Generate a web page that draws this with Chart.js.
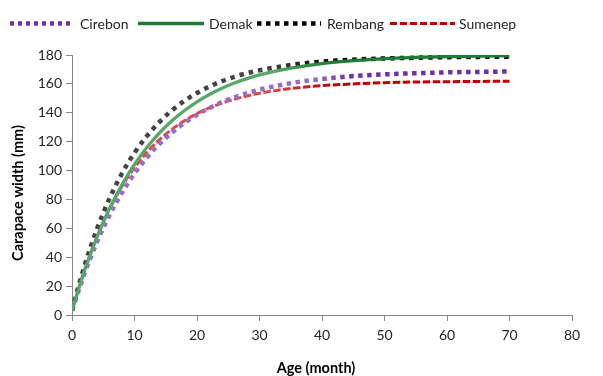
<!DOCTYPE html>
<html>
<head>
<meta charset="utf-8">
<script src="https://cdn.jsdelivr.net/npm/chart.js@4.4.1/dist/chart.umd.min.js"></script>
<style>
html,body{margin:0;padding:0;background:#fff;}
#wrap{width:603px;height:376px;}
</style>
</head>
<body>
<div id="wrap"><canvas id="c" width="603" height="376"></canvas></div>
<script>
// Age (month)
const ages    = [0,1,2,3,4,5,6,7,8,9,10,12,14,16,18,20,22,24,26,28,30,35,40,45,50,55,60,65,70];
// Carapace width (mm)
const cirebon = [3,16.1,28.6,40.0,50.5,60.2,69.1,77.2,84.7,91.5,97.9,109.0,118.4,126.3,133.0,138.6,143.3,147.4,150.7,153.6,156.0,160.5,163.4,165.4,166.6,167.4,168.0,168.3,168.6];
const demak   = [3,17.2,30.4,42.6,53.8,64.1,73.5,82.2,90.2,97.5,104.2,116.1,126.1,134.5,141.6,147.6,152.7,157.0,160.6,163.6,166.2,170.9,174.1,176.1,177.5,178.3,178.9,179.3,179.5];
const rembang = [3,19.3,34.1,47.4,59.6,70.6,80.7,89.8,98.0,105.5,112.3,124.0,133.7,141.7,148.3,153.7,158.2,161.9,164.9,167.4,169.4,173.1,175.4,176.8,177.6,178.1,178.5,178.7,178.8];
const sumenep = [3,17.6,31.1,43.2,54.3,64.3,73.4,81.6,89.1,95.9,102.0,112.7,121.4,128.6,134.5,139.4,143.4,146.7,149.4,151.6,153.5,156.8,158.8,160.0,160.8,161.3,161.5,161.7,161.8];
const seriesNames = ["Cirebon","Demak","Rembang","Sumenep"];
const xTitle = "Age (month)";
const yTitle = "Carapace width (mm)";

const pts = arr => ages.map((a,i)=>({x:a,y:arr[i]}));

function grad(light, dark, s1, s2){
  return function(ctx){
    const ch = ctx.chart, a = ch.chartArea;
    if(!a) return dark;
    const g = ch.ctx.createLinearGradient(a.left,0,a.right,0);
    g.addColorStop(0, light);
    g.addColorStop(s1, light);
    g.addColorStop(s2, dark);
    g.addColorStop(1, dark);
    return g;
  };
}

const styles = [
  {dark:'#7030a0', light:'#9b6cc6', w:4.5, dash:[4.5,4.5], s1:0.48, s2:0.56, order:2},
  {dark:'#1e7b34', light:'#55a868', w:3.3, dash:[], s1:0.40, s2:0.52, order:0},
  {dark:'#000000', light:'#444444', w:4.5, dash:[4.5,5], s1:0.40, s2:0.52, order:1},
  {dark:'#c00000', light:'#e04848', w:3, dash:[7.5,2.5], s1:0.40, s2:0.52, order:3}
];
const dataArrays = [cirebon, demak, rembang, sumenep];

const datasets = seriesNames.map((n,i)=>({
  label:n,
  data:pts(dataArrays[i]),
  borderColor:grad(styles[i].light, styles[i].dark, styles[i].s1, styles[i].s2),
  borderWidth:styles[i].w,
  borderDash:styles[i].dash,
  borderCapStyle:'butt',
  pointRadius:0,
  fill:false,
  cubicInterpolationMode:'monotone',
  order:styles[i].order
}));

const legendPlugin = {
  id:'customLegend',
  afterDraw(chart){
    const ctx = chart.ctx;
    const items = [
      {x1:10, x2:72, tx:80},
      {x1:138, x2:204, tx:209},
      {x1:257, x2:321, tx:327},
      {x1:390, x2:455, tx:459}
    ];
    const y = 23.5;
    ctx.save();
    items.forEach((it,i)=>{
      const s = styles[i];
      ctx.beginPath();
      ctx.strokeStyle = s.dark;
      ctx.lineWidth = s.w;
      ctx.lineCap = 'butt';
      ctx.setLineDash(i===0?[4,4]:(i===2?[4.5,4.5]:(i===3?[7,3]:[])));
      ctx.moveTo(it.x1,y);
      ctx.lineTo(it.x2,y);
      ctx.stroke();
      ctx.setLineDash([]);
      ctx.fillStyle = '#262626';
      ctx.font = '14px Lato';
      ctx.textBaseline = 'middle';
      ctx.textAlign = 'left';
      ctx.fillText(seriesNames[i], it.tx, y+1);
    });
    // axis titles
    ctx.fillStyle = '#000';
    ctx.font = 'bold 14.5px Lato';
    ctx.textAlign = 'center';
    ctx.textBaseline = 'middle';
    ctx.fillText(xTitle, 316, 368);
    ctx.save();
    ctx.translate(18.5, 193);
    ctx.rotate(-Math.PI/2);
    ctx.fillText(yTitle, 0, 0);
    ctx.restore();
    ctx.restore();
  }
};

new Chart(document.getElementById('c'), {
  type:'line',
  data:{datasets},
  options:{
    responsive:false,
    animation:false,
    devicePixelRatio:1,
    layout:{padding:{top:55,right:31,left:0,bottom:0}},
    plugins:{legend:{display:false},tooltip:{enabled:false}},
    scales:{
      x:{
        type:'linear', min:0, max:80,
        ticks:{stepSize:10, color:'#262626', font:{family:'Lato', size:14}, padding:6, maxRotation:0},
        grid:{display:true, drawOnChartArea:false, tickLength:6, color:'#868686', lineWidth:1},
        border:{color:'#868686', width:1},
        title:{display:false},
        afterFit(s){ s.height = 61; }
      },
      y:{
        min:0, max:180,
        ticks:{stepSize:20, color:'#262626', font:{family:'Lato', size:14}, padding:4},
        grid:{display:true, drawOnChartArea:false, tickLength:6, color:'#868686', lineWidth:1},
        border:{color:'#868686', width:1},
        title:{display:false},
        afterFit(s){ s.width = 72; }
      }
    }
  },
  plugins:[legendPlugin]
});
</script>
</body>
</html>
